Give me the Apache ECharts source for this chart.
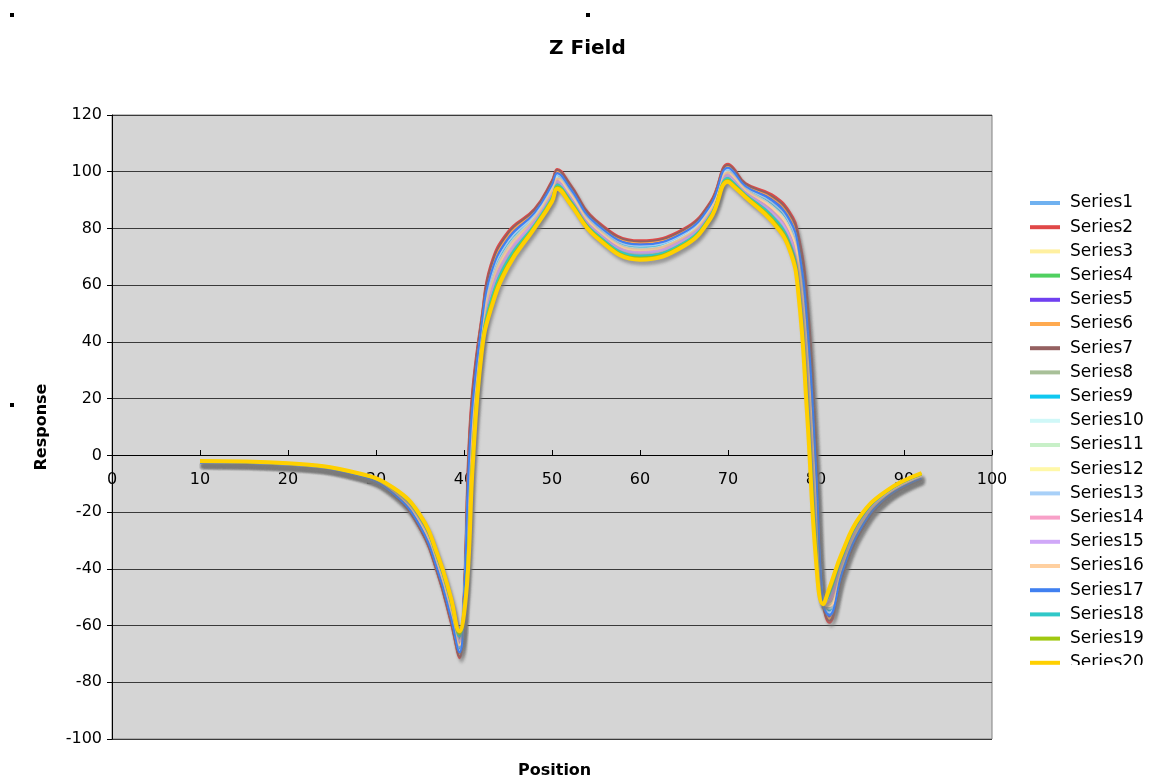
<!DOCTYPE html>
<html><head><meta charset="utf-8">
<script src="https://cdn.jsdelivr.net/npm/echarts@6/dist/echarts.min.js"></script>
<style>html,body{margin:0;padding:0;background:#fff}#c{width:1151px;height:781px}</style>
</head><body><div id="c"></div>
<script>
const positions = [10,20,28,32,35,37,38.5,39.5,40,40.5,41,42,43,45,48,50,50.6,52,55,60,65,68,70,70.6,72,75,77,78,79,80,80.8,81.5,83,85,88,92];

const series1  = [-2.5,-3.3,-7.1,-13.4,-24.8,-40.3,-56.8,-69.1,-50.0,-8.0,18.0,45.8,63.0,75.9,85.3,95.1,99.3,94.3,81.5,74.1,78.5,88.0,101.2,99.9,94.8,89.6,82.6,72.8,45.5,-5.5,-52.1,-56.0,-40.8,-26.0,-14.8,-8.0];
const series2  = [-2.6,-3.5,-7.3,-14.0,-26.0,-42.0,-59.0,-71.5,-48.0,2.0,25.0,49.0,67.0,79.0,87.0,97.0,101.0,96.0,83.0,75.8,80.0,89.5,102.8,101.5,96.0,92.0,86.0,78.0,56.0,5.0,-52.0,-59.0,-43.0,-27.5,-15.5,-8.6];
const series3  = [-2.3,-3.2,-6.8,-12.8,-23.5,-38.5,-54.5,-66.8,-52.0,-18.0,11.0,42.5,59.0,72.8,83.5,93.3,97.5,92.5,80.0,72.4,76.9,86.5,99.7,98.3,93.5,87.3,79.3,67.5,35.0,-16.0,-52.3,-53.0,-38.5,-24.5,-14.0,-7.5];
const series4  = [-2.1,-2.9,-6.5,-11.9,-21.8,-36.1,-51.4,-63.4,-54.8,-32.0,1.2,38.0,53.4,68.4,81.1,90.6,95.1,90.1,77.9,70.0,74.7,84.4,97.4,96.0,91.8,83.9,74.5,60.2,20.3,-30.7,-52.4,-48.8,-35.4,-22.4,-13.0,-6.6];
const series5  = [-2.5,-3.4,-7.1,-13.6,-25.1,-40.7,-57.4,-69.8,-49.4,-5.2,20.0,46.7,64.1,76.8,85.7,95.7,99.7,94.7,81.9,74.6,78.9,88.4,101.7,100.3,95.1,90.3,83.6,74.2,48.4,-2.6,-52.1,-56.8,-41.4,-26.4,-15.0,-8.2];
const series6  = [-2.5,-3.4,-7.2,-13.7,-25.4,-41.2,-57.9,-70.4,-49.0,-2.8,21.6,47.4,65.1,77.5,86.2,96.1,100.2,95.2,82.3,75.0,79.3,88.8,102.0,100.7,95.4,90.9,84.4,75.5,51.0,0.0,-52.1,-57.6,-41.9,-26.8,-15.1,-8.3];
const series7  = [-2.6,-3.5,-7.2,-13.9,-25.7,-41.6,-58.5,-70.9,-48.5,-0.4,23.3,48.2,66.0,78.3,86.6,96.6,100.6,95.6,82.6,75.4,79.6,89.1,102.4,101.1,95.7,91.4,85.2,76.7,53.5,2.5,-52.0,-58.3,-42.5,-27.1,-15.3,-8.5];
const series8  = [-2.2,-3.0,-6.6,-12.1,-22.3,-36.8,-52.3,-64.4,-54.0,-28.0,4.0,39.3,55.0,69.6,81.8,91.4,95.8,90.8,78.5,70.7,75.4,85.0,98.1,96.6,92.3,84.9,75.9,62.3,24.5,-26.5,-52.4,-50.0,-36.3,-23.0,-13.3,-6.9];
const series9  = [-2.4,-3.3,-7.0,-13.1,-24.3,-39.6,-55.9,-68.2,-50.8,-12.0,15.2,44.5,61.4,74.6,84.6,94.4,98.6,93.6,80.9,73.4,77.8,87.4,100.6,99.2,94.3,88.7,81.3,70.7,41.3,-9.7,-52.2,-54.8,-39.9,-25.4,-14.5,-7.8];
const series10 = [-2.4,-3.2,-6.9,-13.0,-23.9,-39.1,-55.2,-67.5,-51.4,-14.8,13.2,43.5,60.3,73.8,84.1,93.9,98.1,93.1,80.5,72.9,77.4,87.0,100.2,98.8,93.9,88.0,80.3,69.2,38.4,-12.6,-52.2,-54.0,-39.2,-25.0,-14.2,-7.6];
const series11 = [-2.2,-3.0,-6.6,-12.3,-22.5,-37.1,-52.7,-64.9,-53.6,-26.0,5.4,39.9,55.8,70.3,82.1,91.8,96.1,91.1,78.8,71.0,75.7,85.3,98.4,97.0,92.5,85.4,76.6,63.3,26.6,-24.4,-52.4,-50.6,-36.7,-23.3,-13.4,-7.0];
const series12 = [-2.3,-3.1,-6.8,-12.6,-23.3,-38.2,-54.1,-66.3,-52.4,-20.0,9.6,41.9,58.2,72.1,83.2,92.9,97.2,92.2,79.7,72.1,76.6,86.2,99.3,97.9,93.3,86.8,78.6,66.5,32.9,-18.1,-52.3,-52.4,-38.1,-24.2,-13.9,-7.3];
const series13 = [-2.4,-3.3,-7.0,-13.3,-24.5,-39.9,-56.3,-68.7,-50.4,-10.0,16.6,45.1,62.2,75.3,84.9,94.8,98.9,93.9,81.2,73.8,78.1,87.7,100.9,99.6,94.5,89.2,82.0,71.7,43.4,-7.6,-52.2,-55.4,-40.3,-25.7,-14.6,-7.9];
const series14 = [-2.2,-3.1,-6.7,-12.5,-23.0,-37.8,-53.6,-65.8,-52.8,-22.0,8.2,41.2,57.4,71.5,82.8,92.5,96.8,91.8,79.4,71.7,76.3,85.9,99.0,97.6,93.0,86.3,77.9,65.4,30.8,-20.2,-52.3,-51.8,-37.6,-23.9,-13.7,-7.2];
const series15 = [-2.2,-3.0,-6.7,-12.4,-22.8,-37.5,-53.2,-65.3,-53.2,-24.0,6.8,40.6,56.6,70.9,82.5,92.1,96.5,91.5,79.1,71.4,76.0,85.6,98.7,97.3,92.8,85.8,77.2,64.4,28.7,-22.3,-52.3,-51.2,-37.2,-23.6,-13.6,-7.1];
const series16 = [-2.3,-3.2,-6.8,-12.8,-23.6,-38.6,-54.7,-66.9,-51.8,-17.2,11.6,42.8,59.3,73.0,83.6,93.4,97.6,92.6,80.1,72.5,77.0,86.6,99.8,98.4,93.6,87.4,79.5,67.9,35.8,-15.2,-52.2,-53.2,-38.7,-24.6,-14.1,-7.5];
const series17 = [-2.5,-3.3,-7.1,-13.5,-24.9,-40.5,-57.0,-69.4,-49.8,-6.8,18.8,46.1,63.5,76.3,85.5,95.4,99.5,94.5,81.7,74.3,78.6,88.2,101.4,100.1,94.9,89.9,83.0,73.4,46.8,-4.2,-52.1,-56.4,-41.0,-26.2,-14.8,-8.1];
const series18 = [-2.1,-2.9,-6.5,-12.0,-22.0,-36.4,-51.8,-63.9,-54.4,-30.0,2.6,38.6,54.2,69.0,81.4,91.0,95.4,90.4,78.2,70.4,75.0,84.7,97.8,96.3,92.0,84.4,75.2,61.2,22.4,-28.6,-52.4,-49.4,-35.8,-22.7,-13.1,-6.8];
const series19 = [-2.1,-2.9,-6.4,-11.7,-21.4,-35.6,-50.7,-62.8,-55.4,-34.8,-0.8,37.0,52.3,67.5,80.6,90.1,94.6,89.6,77.5,69.5,74.3,84.0,97.0,95.5,91.4,83.3,73.6,58.7,17.4,-33.6,-52.5,-48.0,-34.7,-22.0,-12.7,-6.5];
const series20 = [-2.0,-2.8,-6.3,-11.5,-21.0,-35.0,-50.0,-62.0,-56.0,-38.0,-3.0,36.0,51.0,66.5,80.0,89.5,94.0,89.0,77.0,69.0,73.8,83.5,96.5,95.0,91.0,82.5,72.5,57.0,14.0,-37.0,-52.5,-47.0,-34.0,-21.5,-12.5,-6.3];

const seriesNames = ['Series1','Series2','Series3','Series4','Series5','Series6','Series7','Series8','Series9','Series10','Series11','Series12','Series13','Series14','Series15','Series16','Series17','Series18','Series19','Series20'];
const seriesValues = [series1,series2,series3,series4,series5,series6,series7,series8,series9,series10,series11,series12,series13,series14,series15,series16,series17,series18,series19,series20];
const seriesColors = ['#6fb1f0','#e04848','#fff0a0','#50d060','#7040f0','#ffaa50','#946060','#a8c098','#10c8f0','#d0f8f8','#c8f0c8','#fff8a8','#a8d0f8','#f8a0c8','#d0a8f8','#ffd0a0','#4080f0','#30c8c8','#a0c810','#ffd000'];

const chart = echarts.init(document.getElementById('c'), null, {renderer:'canvas'});
const FONT = 'DejaVu Sans';

const series = seriesNames.map((name, i) => ({
  name: name,
  type: 'line',
  data: positions.map((x, j) => [x, seriesValues[i][j]]),
  smooth: 0.45,
  showSymbol: false,
  symbol: 'none',
  color: seriesColors[i],
  lineStyle: {
    color: seriesColors[i],
    width: i === 19 ? 4 : (i === 18 ? 3 : 2),
    shadowColor: 'rgba(125,125,125,0.45)',
    shadowBlur: 3,
    shadowOffsetX: 2,
    shadowOffsetY: 4
  },
  emphasis: {disabled: true},
  animation: false
}));

chart.setOption({
  animation: false,
  backgroundColor: '#ffffff',
  title: [
    {text: 'Z Field', left: 544, top: 34, textStyle: {fontFamily: FONT, fontWeight: 'bold', fontSize: 20, color: '#000'}},
    {text: 'Position', left: 513, top: 758, textStyle: {fontFamily: FONT, fontWeight: 'bold', fontSize: 16, color: '#000'}}
  ],
  grid: {left: 112, right: 159, top: 115, bottom: 42, show: true, backgroundColor: '#d5d5d5', borderColor: '#808080', borderWidth: 1},
  legend: {
    orient: 'vertical',
    left: 1025,
    top: 188,
    itemWidth: 30,
    itemHeight: 4,
    itemGap: 4.2,
    icon: 'rect',
    data: seriesNames,
    textStyle: {fontFamily: FONT, fontSize: 17, color: '#000', lineHeight: 20, padding: [0,0,0,5]}
  },
  xAxis: {
    type: 'value', min: 0, max: 100, interval: 10,
    position: 'bottom',
    offset: -284,
    axisLine: {onZero: false, lineStyle: {color: '#000', width: 1}},
    axisTick: {show: true, inside: true, length: 5, lineStyle: {color: '#000'}},
    axisLabel: {fontFamily: FONT, fontSize: 16, color: '#000', margin: 17},
    splitLine: {show: false}
  },
  yAxis: {
    type: 'value', min: -100, max: 120, interval: 20,
    name: 'Response', nameLocation: 'middle', nameGap: 62, nameRotate: 90,
    nameTextStyle: {fontFamily: FONT, fontWeight: 'bold', fontSize: 16, color: '#000'},
    axisLine: {show: true, onZero: false, lineStyle: {color: '#000', width: 1}},
    axisTick: {show: true, inside: false, length: 5, lineStyle: {color: '#000'}},
    axisLabel: {fontFamily: FONT, fontSize: 16, color: '#000', margin: 10},
    splitLine: {show: true, lineStyle: {color: '#3a3a3a', width: 1}}
  },
  graphic: [
    {type: 'rect', shape: {x: 1015, y: 665, width: 136, height: 116}, style: {fill: '#ffffff'}, z: 100},
    {type: 'rect', shape: {x: 10, y: 13, width: 4, height: 4}, style: {fill: '#000'}},
    {type: 'rect', shape: {x: 586, y: 13, width: 4, height: 4}, style: {fill: '#000'}},
    {type: 'rect', shape: {x: 10, y: 403, width: 4, height: 4}, style: {fill: '#000'}}
  ],
  series: series
});
</script></body></html>
